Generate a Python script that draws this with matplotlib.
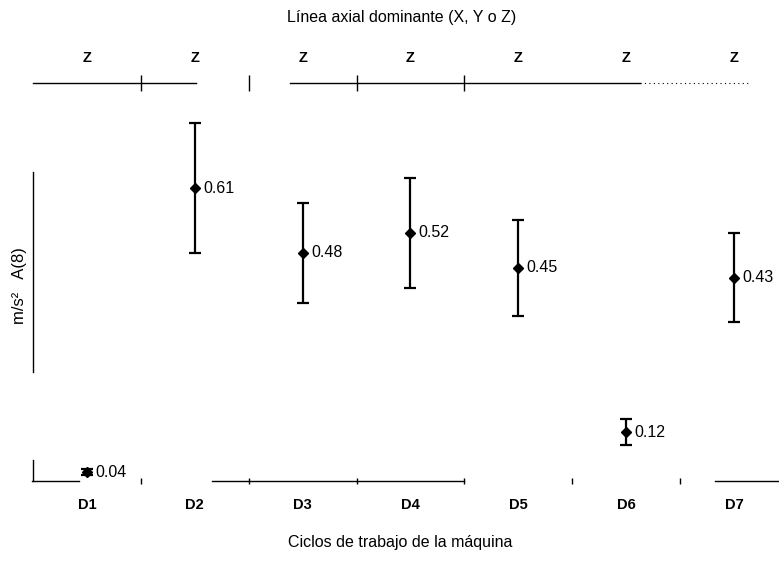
import matplotlib.pyplot as plt
from matplotlib.ticker import FixedLocator

# ---- datos del grafico ----
ciclos = ['D1', 'D2', 'D3', 'D4', 'D5', 'D6', 'D7']
eje_dominante = ['Z', 'Z', 'Z', 'Z', 'Z', 'Z', 'Z']
media = [0.04, 0.61, 0.48, 0.52, 0.45, 0.12, 0.43]
error = [0.006, 0.130, 0.101, 0.110, 0.096, 0.026, 0.089]

plt.rcParams['font.family'] = ['Liberation Sans', 'DejaVu Sans']

fig = plt.figure(figsize=(7.79, 5.78), dpi=100)
ax = fig.add_axes([0.0424, 0.1678, 0.969, 0.6886])

x = list(range(1, len(ciclos) + 1))
ax.errorbar(x, media, yerr=error, fmt='D', color='black', ms=5,
            elinewidth=1.6, capsize=4, capthick=1.6, clip_on=False)
for xi, v in zip(x, media):
    ax.annotate(f'{v:.2f}', (xi, v), xytext=(6, 0), textcoords='offset points',
                va='center', ha='left', fontsize=11.5)

Y0, Y1 = 0.022, 0.821
ax.set_xlim(0.5, 7.5)
ax.set_ylim(Y0, Y1)

# ejes "escaneados": se dibujan solo los tramos visibles
for sp in ax.spines.values():
    sp.set_visible(False)
tramos_inf = [(0.49, 0.93), (2.16, 4.5), (6.82, 7.5)]
tramos_sup = [(0.5, 2.01), (2.88, 6.13)]
tramos_izq = [(0.241, 0.642), (Y0, 0.064)]
for a, b in tramos_inf:
    ax.plot([a, b], [Y0, Y0], color='black', lw=1.0, clip_on=False)
for a, b in tramos_sup:
    ax.plot([a, b], [Y1, Y1], color='black', lw=1.0, clip_on=False)
ax.plot([6.13, 7.15], [Y1, Y1], color='black', lw=0.8, ls=(0, (1, 3)), clip_on=False)
for a, b in tramos_izq:
    ax.plot([0.5, 0.5], [a, b], color='black', lw=1.0, clip_on=False)

ax.set_yticks([])
ax.set_xticks(x)
ax.set_xticklabels(ciclos, fontweight='bold', fontsize=10.5)
ax.tick_params(axis='x', which='major', length=0, pad=12)
ax.xaxis.set_minor_locator(FixedLocator([1.5, 2.5, 3.5, 4.5, 5.5, 6.5]))
ax.tick_params(axis='x', which='minor', direction='inout', length=5, width=1)

top = ax.secondary_xaxis('top')
top.set_xticks(x)
top.set_xticklabels(eje_dominante, fontweight='bold', fontsize=10.5)
top.tick_params(axis='x', which='major', length=0, pad=13)
top.xaxis.set_minor_locator(FixedLocator([1.5, 2.5, 3.5, 4.5]))
top.tick_params(axis='x', which='minor', direction='inout', length=11, width=1)
top.spines['top'].set_visible(False)

ax.set_xlabel('Ciclos de trabajo de la máquina', fontsize=11.5, labelpad=17)
ax.xaxis.label.set_x(0.486)
ax.set_ylabel('m/s²   A(8)', fontsize=12)
ax.yaxis.set_label_coords(-0.008, 0.49)
fig.text(0.515, 0.97, 'Línea axial dominante (X, Y o Z)', ha='center', va='center', fontsize=11.5)

fig.savefig('out.png', dpi=100)
